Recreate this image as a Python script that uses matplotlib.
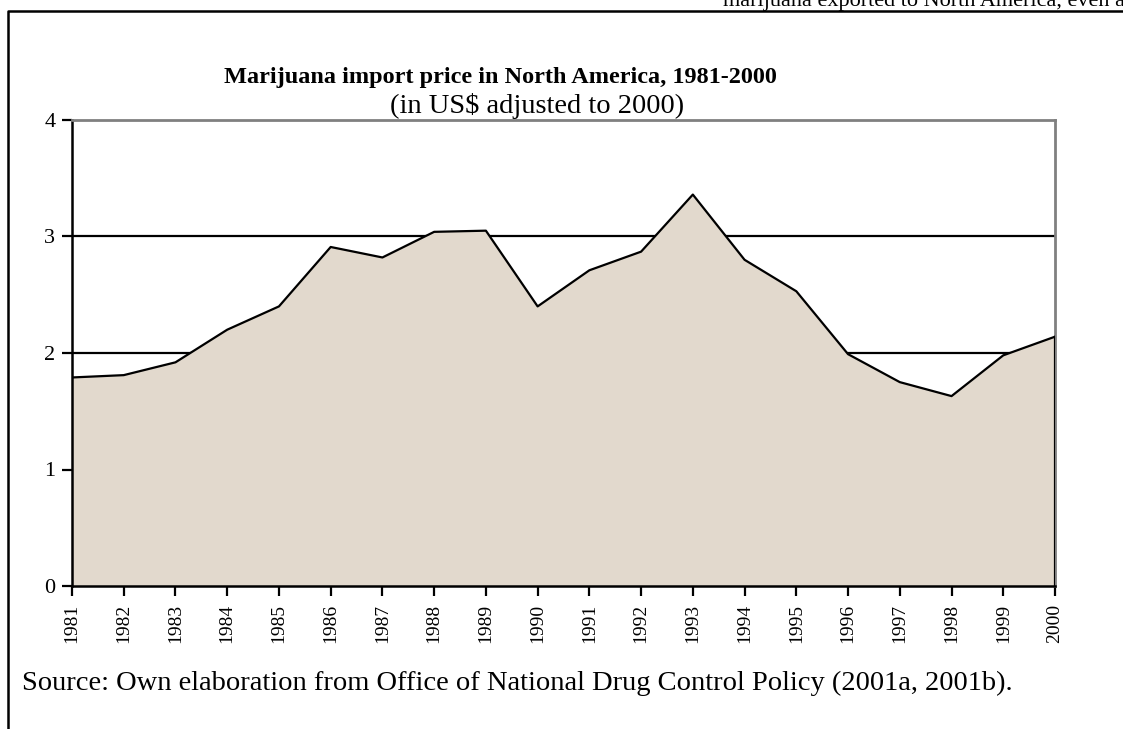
import matplotlib.pyplot as plt
from matplotlib.lines import Line2D

# Marijuana import price in North America (US$ adjusted to 2000)
years = list(range(1981, 2001))
prices = [1.79, 1.81, 1.92, 2.20, 2.40, 2.91, 2.82, 3.04, 3.05, 2.40,
          2.71, 2.87, 3.36, 2.80, 2.53, 1.99, 1.75, 1.63, 1.98, 2.14]
y_ticks = [0, 1, 2, 3, 4]

serif = ['Liberation Serif', 'DejaVu Serif']
plt.rcParams['font.family'] = serif

W, H = 1123, 729
fig = plt.figure(figsize=(W / 100, H / 100), dpi=100)
ax = fig.add_axes([72 / W, (H - 586) / H, (1055 - 72) / W, (586 - 120) / H])

# horizontal grid lines sit behind the filled area
for v in y_ticks[1:-1]:
    ax.axhline(v, color='black', lw=1.6, zorder=1)

ax.fill_between(years, prices, 0, facecolor='#e2d9cd', edgecolor='none', zorder=2)
ax.plot(years, prices, color='black', lw=1.6, zorder=3)
ax.plot([years[-1], years[-1]], [0, prices[-1]], color='black', lw=1.6, zorder=3)

ax.set_xlim(years[0], years[-1])
ax.set_ylim(0, 4)
ax.set_xticks(years)
ax.set_xticklabels([str(y) for y in years], rotation=90, fontsize=14)
ax.set_yticks(y_ticks)
ax.set_yticklabels([str(v) for v in y_ticks], fontsize=16)
ax.tick_params(axis='both', direction='out', length=7, width=1.6, color='black')
ax.tick_params(axis='y', pad=5)
ax.tick_params(axis='x', pad=6)

ax.spines['left'].set_linewidth(1.8)
ax.spines['bottom'].set_linewidth(1.8)
ax.spines['top'].set_color('#808080')
ax.spines['top'].set_linewidth(2)
ax.spines['right'].set_color('#808080')
ax.spines['right'].set_linewidth(2)

fig.text(500 / W, 1 - 77 / H, 'Marijuana import price in North America, 1981-2000',
         ha='center', va='center', fontsize=17.5, fontweight='bold')
fig.text(537 / W, 1 - 119 / H, '(in US$ adjusted to 2000)',
         ha='center', va='bottom', fontsize=20.5)

# page furniture around the chart
fig.add_artist(Line2D([8 / W, 8 / W, 1.0], [0.0, 1 - 10.5 / H, 1 - 10.5 / H],
                      transform=fig.transFigure, color='black', lw=1.8))
fig.text(1125 / W, 1 - 6 / H, 'marijuana exported to North America, even a',
         ha='right', va='baseline', fontsize=16)
fig.text(22 / W, 1 - 690 / H,
         'Source: Own elaboration from Office of National Drug Control Policy (2001a, 2001b).',
         ha='left', va='baseline', fontsize=20.5)

fig.savefig('out.png', dpi=100)
